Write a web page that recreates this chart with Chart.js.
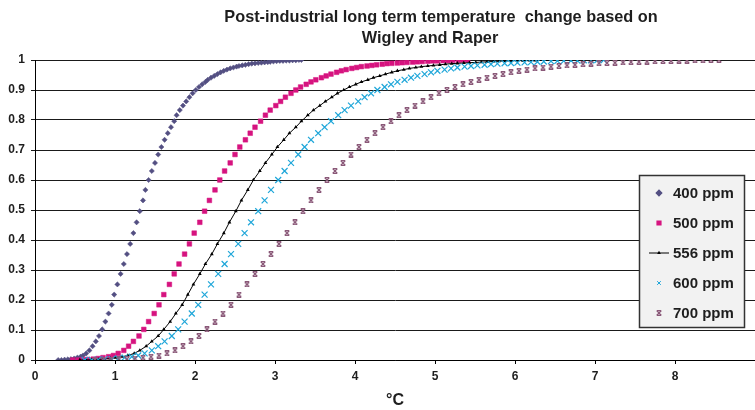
<!DOCTYPE html>
<html>
<head>
<meta charset="utf-8">
<script src="https://cdn.jsdelivr.net/npm/chart.js@4/dist/chart.umd.min.js"></script>
<style>
  html, body { margin: 0; padding: 0; background: #fff; }
  canvas { display: block; }
</style>
</head>
<body>
<canvas id="tempChart" width="755" height="410"></canvas>
<script>
// cumulative probability, shared by every concentration
const probability = [
  0, 0, 0.001, 0.002, 0.003, 0.005, 0.008, 0.011, 0.015, 0.022,
  0.032, 0.046, 0.062, 0.080, 0.102, 0.128, 0.155, 0.184, 0.218, 0.252,
  0.287, 0.320, 0.353, 0.387, 0.423, 0.459, 0.496, 0.532, 0.567, 0.600,
  0.630, 0.657, 0.685, 0.710, 0.734, 0.756, 0.776, 0.796, 0.816, 0.833,
  0.848, 0.862, 0.876, 0.889, 0.900, 0.910, 0.919, 0.927, 0.934, 0.941,
  0.947, 0.953, 0.959, 0.964, 0.968, 0.972, 0.975, 0.978, 0.980, 0.982,
  0.984, 0.986, 0.988, 0.989, 0.990, 0.991, 0.992, 0.993, 0.994, 0.995,
  0.996, 0.997, 0.997, 0.998, 0.998, 0.999, 0.999, 1.000, 1.000
];

// temperature change (°C) for each concentration
const temp400 = [
  0.29, 0.33, 0.37, 0.41, 0.45, 0.49, 0.53, 0.57, 0.60, 0.64,
  0.68, 0.72, 0.76, 0.80, 0.84, 0.88, 0.92, 0.96, 0.99, 1.03,
  1.07, 1.11, 1.15, 1.19, 1.23, 1.27, 1.31, 1.35, 1.38, 1.42,
  1.46, 1.50, 1.54, 1.58, 1.62, 1.66, 1.70, 1.74, 1.77, 1.81,
  1.85, 1.89, 1.93, 1.97, 2.01, 2.05, 2.09, 2.13, 2.16, 2.20,
  2.24, 2.28, 2.32, 2.36, 2.40, 2.44, 2.48, 2.52, 2.55, 2.59,
  2.63, 2.67, 2.71, 2.75, 2.79, 2.83, 2.87, 2.91, 2.94, 2.98,
  3.02, 3.06, 3.10, 3.14, 3.18, 3.22, 3.26, 3.30, 3.33
];
const temp500 = [
  0.47, 0.54, 0.60, 0.66, 0.73, 0.79, 0.85, 0.92, 0.98, 1.04,
  1.11, 1.17, 1.23, 1.30, 1.36, 1.42, 1.49, 1.55, 1.61, 1.68,
  1.74, 1.80, 1.87, 1.93, 1.99, 2.06, 2.12, 2.18, 2.25, 2.31,
  2.37, 2.44, 2.50, 2.56, 2.63, 2.69, 2.75, 2.82, 2.88, 2.94,
  3.01, 3.07, 3.13, 3.20, 3.26, 3.32, 3.39, 3.45, 3.51, 3.58,
  3.64, 3.70, 3.77, 3.83, 3.89, 3.96, 4.02, 4.08, 4.15, 4.21,
  4.27, 4.34, 4.40, 4.46, 4.53, 4.59, 4.65, 4.72, 4.78, 4.84,
  4.91, 4.97, 5.03, 5.10, 5.16, 5.22, 5.29, 5.35, 5.41
];
const temp556 = [
  0.56, 0.64, 0.71, 0.79, 0.86, 0.94, 1.01, 1.09, 1.16, 1.24,
  1.31, 1.39, 1.46, 1.54, 1.61, 1.69, 1.76, 1.84, 1.91, 1.98,
  2.06, 2.13, 2.21, 2.28, 2.36, 2.43, 2.51, 2.58, 2.66, 2.73,
  2.81, 2.88, 2.96, 3.03, 3.11, 3.18, 3.26, 3.33, 3.41, 3.48,
  3.56, 3.63, 3.71, 3.78, 3.86, 3.93, 4.01, 4.08, 4.16, 4.23,
  4.31, 4.38, 4.46, 4.53, 4.61, 4.68, 4.76, 4.83, 4.91, 4.98,
  5.06, 5.13, 5.21, 5.28, 5.36, 5.43, 5.51, 5.58, 5.65, 5.73,
  5.80, 5.88, 5.95, 6.03, 6.10, 6.18, 6.25, 6.33, 6.40
];
const temp600 = [
  0.62, 0.71, 0.79, 0.87, 0.96, 1.04, 1.12, 1.21, 1.29, 1.37,
  1.46, 1.54, 1.62, 1.71, 1.79, 1.87, 1.96, 2.04, 2.12, 2.20,
  2.29, 2.37, 2.45, 2.54, 2.62, 2.70, 2.79, 2.87, 2.95, 3.04,
  3.12, 3.20, 3.29, 3.37, 3.45, 3.54, 3.62, 3.70, 3.79, 3.87,
  3.95, 4.04, 4.12, 4.20, 4.28, 4.37, 4.45, 4.53, 4.62, 4.70,
  4.78, 4.87, 4.95, 5.03, 5.12, 5.20, 5.28, 5.37, 5.45, 5.53,
  5.62, 5.70, 5.78, 5.87, 5.95, 6.03, 6.12, 6.20, 6.28, 6.36,
  6.45, 6.53, 6.61, 6.70, 6.78, 6.86, 6.95, 7.03, 7.11
];
const temp700 = [
  0.75, 0.85, 0.95, 1.05, 1.15, 1.25, 1.35, 1.45, 1.55, 1.65,
  1.75, 1.85, 1.95, 2.05, 2.15, 2.25, 2.35, 2.45, 2.55, 2.65,
  2.75, 2.85, 2.95, 3.05, 3.15, 3.25, 3.35, 3.45, 3.55, 3.65,
  3.75, 3.85, 3.95, 4.05, 4.15, 4.25, 4.35, 4.45, 4.55, 4.65,
  4.75, 4.85, 4.95, 5.05, 5.15, 5.25, 5.35, 5.45, 5.55, 5.65,
  5.75, 5.85, 5.95, 6.05, 6.15, 6.25, 6.35, 6.45, 6.55, 6.65,
  6.75, 6.85, 6.95, 7.05, 7.15, 7.25, 7.35, 7.45, 7.55, 7.65,
  7.75, 7.85, 7.95, 8.05, 8.15, 8.25, 8.35, 8.45, 8.55
];

const seriesNames = ['400 ppm', '500 ppm', '556 ppm', '600 ppm', '700 ppm'];
const xTicks = [0, 1, 2, 3, 4, 5, 6, 7, 8];
const yTicks = [0, 0.1, 0.2, 0.3, 0.4, 0.5, 0.6, 0.7, 0.8, 0.9, 1];

const FONT = "'Liberation Sans', Arial, sans-serif";
const INK = '#1e1e1e';

function toPoints(xs) {
  return xs.map((x, i) => ({ x: x, y: probability[i] }));
}

// Excel-ish "star" marker: an x with little caps top and bottom
function starMarker(color) {
  const c = document.createElement('canvas');
  c.width = 6; c.height = 6;
  const g = c.getContext('2d');
  g.strokeStyle = color;
  g.lineWidth = 1.3;
  g.beginPath();
  g.moveTo(0.6, 0.6); g.lineTo(5.4, 5.4);
  g.moveTo(5.4, 0.6); g.lineTo(0.6, 5.4);
  g.moveTo(1, 0.7); g.lineTo(5, 0.7);
  g.moveTo(1, 5.3); g.lineTo(5, 5.3);
  g.stroke();
  return c;
}

const datasets = [
  { label: seriesNames[0], data: toPoints(temp400), pointStyle: 'rectRot', pointRadius: 2.6,
    backgroundColor: '#534f82', borderColor: '#534f82', pointBorderWidth: 0.5, order: 4 },
  { label: seriesNames[1], data: toPoints(temp500), pointStyle: 'rect', pointRadius: 3.3,
    backgroundColor: '#d6137f', borderColor: '#d6137f', pointBorderWidth: 0.5, order: 3 },
  { label: seriesNames[2], data: toPoints(temp556), pointStyle: 'triangle', pointRadius: 2.2,
    backgroundColor: '#000', borderColor: '#000', pointBorderWidth: 0, borderWidth: 1,
    showLine: true, order: 2 },
  { label: seriesNames[3], data: toPoints(temp600), pointStyle: 'crossRot', pointRadius: 4.2,
    backgroundColor: '#1ea6d9', borderColor: '#1ea6d9', pointBorderWidth: 1.2, order: 1 },
  { label: seriesNames[4], data: toPoints(temp700), pointStyle: starMarker('#8a5878'), pointRadius: 3,
    backgroundColor: '#8a5878', borderColor: '#8a5878', pointBorderWidth: 1, order: 0 }
];

// two-line heading, sits a little right of the plot centre as in the source
const headingPlugin = {
  id: 'heading',
  afterDraw(chart) {
    const ctx = chart.ctx;
    ctx.save();
    ctx.fillStyle = INK;
    ctx.font = 'bold 16.3px ' + FONT;
    ctx.textAlign = 'center';
    ctx.textBaseline = 'middle';
    ctx.fillText('Post-industrial long term temperature  change based on', 441, 18);
    ctx.fillText('Wigley and Raper', 430, 39);
    ctx.restore();
  }
};

// boxed legend inside the plot, lower right
const boxLegend = {
  id: 'boxLegend',
  afterDraw(chart) {
    const ctx = chart.ctx;
    const box = { x: 639.5, y: 175.5, w: 105, h: 152 };
    ctx.save();
    ctx.fillStyle = '#f2f2f2';
    ctx.fillRect(box.x, box.y, box.w, box.h);
    ctx.strokeStyle = '#333';
    ctx.lineWidth = 1.5;
    ctx.strokeRect(box.x, box.y, box.w, box.h);

    ctx.font = 'bold 15px ' + FONT;
    ctx.textBaseline = 'middle';
    ctx.textAlign = 'left';
    chart.data.datasets.forEach((ds, i) => {
      const cy = 193 + i * 30;
      const mx = 659;
      if (ds.showLine) {
        ctx.strokeStyle = ds.borderColor;
        ctx.lineWidth = 1;
        ctx.beginPath();
        ctx.moveTo(mx - 10, cy);
        ctx.lineTo(mx + 10, cy);
        ctx.stroke();
      }
      ctx.fillStyle = ds.backgroundColor;
      ctx.strokeStyle = ds.borderColor;
      Chart.helpers.drawPoint(ctx, {
        pointStyle: ds.pointStyle,
        radius: Math.min(ds.pointRadius, 2.6),
        rotation: 0,
        borderWidth: ds.pointBorderWidth
      }, mx, cy);
      ctx.fillStyle = INK;
      ctx.fillText(ds.label, 673, cy + 0.5);
    });
    ctx.restore();
  }
};

new Chart(document.getElementById('tempChart'), {
  type: 'scatter',
  data: { datasets: datasets },
  plugins: [headingPlugin, boxLegend],
  options: {
    responsive: false,
    animation: false,
    devicePixelRatio: 1,
    layout: { autoPadding: false, padding: { top: 60, right: 0, bottom: 0, left: 0 } },
    plugins: {
      legend: { display: false },
      tooltip: { enabled: false }
    },
    scales: {
      x: {
        type: 'linear',
        min: 0,
        max: 9,
        afterBuildTicks: (scale) => { scale.ticks = xTicks.map(v => ({ value: v })); },
        afterFit: (scale) => {
          scale.height = 50;
          scale.paddingLeft = 0;
          scale.paddingRight = 0;
        },
        ticks: { color: INK, padding: 5, font: { family: FONT, size: 12, weight: 'bold' } },
        grid: { drawOnChartArea: false, color: '#000', tickLength: 4 },
        border: { color: '#000', width: 1 },
        title: {
          display: true, text: '°C', color: INK,
          padding: { top: 0, bottom: 0 },
          font: { family: FONT, size: 16, weight: 'bold' }
        }
      },
      y: {
        type: 'linear',
        min: 0,
        max: 1,
        afterBuildTicks: (scale) => { scale.ticks = yTicks.map(v => ({ value: v })); },
        afterFit: (scale) => {
          scale.width = 35;
          scale.paddingTop = 0;
          scale.paddingBottom = 0;
        },
        ticks: {
          color: INK, padding: 6,
          font: { family: FONT, size: 12, weight: 'bold' },
          callback: (v) => String(Math.round(v * 10) / 10)
        },
        grid: { color: '#1a1a1a', lineWidth: 1, tickLength: 4 },
        border: { color: '#000', width: 1 }
      }
    }
  }
});
</script>
</body>
</html>
